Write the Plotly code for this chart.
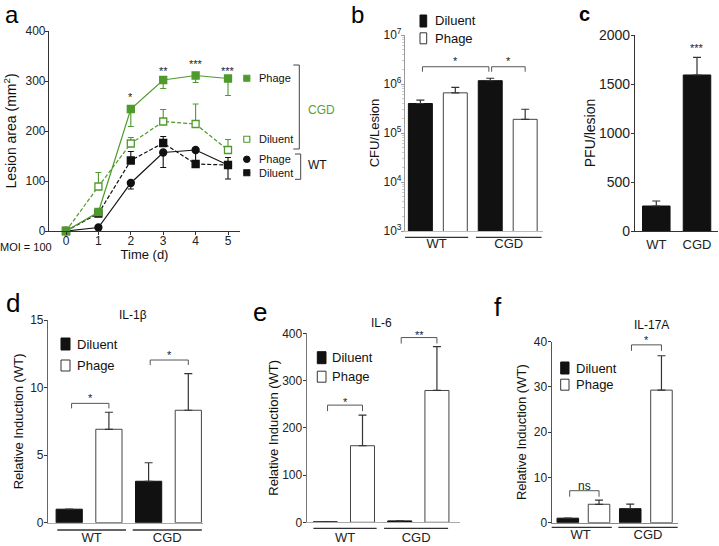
import math
import plotly.graph_objects as go

W, H = 719, 546
FONT = "'Liberation Sans', Arial, Helvetica, sans-serif"

# ---------------- data ----------------
days = [0, 1, 2, 3, 4, 5]
day_sig = ["", "", "*", "**", "***", "***"]
day_sig_y = [0, 0, 269, 321, 335, 321]

cgd_phage = [0, 38, 244, 302, 311, 305]
cgd_phage_err = [0, 0, 35, 17, 14, 34]        # drawn downward
cgd_diluent = [0, 89, 175, 219, 214, 162]
cgd_diluent_err = [0, 28, 12, 24, 40, 21]     # drawn upward
wt_phage = [0, 7, 96, 157, 162, 132]
wt_phage_err = [0, 0, 12, 30, 0, 28]          # drawn downward
wt_diluent = [0, 35, 141, 176, 134, 132]
wt_diluent_err = [0, 0, 18, 13, 28, 15]       # drawn upward

groups = ["WT", "CGD"]
treatments = ["Diluent", "Phage"]

cfu_diluent = [4.0e5, 1.17e6]
cfu_diluent_err = [0.7e5, 0.14e6]
cfu_phage = [6.6e5, 1.9e5]
cfu_phage_err = [1.95e5, 1.15e5]
cfu_sig = [("*", 0, 2, 2.25e6), ("*", 2, 3, 2.25e6)]

pfu = [255, 1592]
pfu_err = [51, 180]
pfu_sig = ("***", 1, 1864)

il1b_diluent = [1.0, 3.07]
il1b_diluent_err = [0, 1.37]
il1b_phage = [6.92, 8.33]
il1b_phage_err = [1.26, 2.71]
il1b_sig = [("*", 0, 1, 8.84), ("*", 2, 3, 12.05)]

il6_diluent = [1.0, 3.0]
il6_diluent_err = [0, 0]
il6_phage = [162, 279]
il6_phage_err = [65, 93]
il6_sig = [("*", 0, 1, 248), ("**", 2, 3, 391)]

il17_diluent = [1.0, 3.1]
il17_diluent_err = [0, 1.0]
il17_phage = [4.07, 29.3]
il17_phage_err = [0.9, 7.6]
il17_sig = [("ns", 0, 1, 7.07), ("*", 2, 3, 39.3)]

GREEN = "#4f9a2c"
GREEN_TXT = "#5a9e34"
BLACK = "#111111"


def PX(x):
    return x / W


def PY(y):
    return 1 - y / H


# panel geometry (pixels) and axis ranges
geo = {
    1: dict(x=(49, 240), y=(31, 231), xr=[-0.525, 5.37], yr=[0, 400], log=False),
    2: dict(x=(405, 543), y=(35, 231), xr=[-0.44, 3.51], yr=[3, 7], log=True),
    3: dict(x=(635, 718), y=(35, 231), xr=[-0.523, 1.516], yr=[0, 2000], log=False),
    4: dict(x=(48, 203), y=(320.2, 522.7), xr=[-0.534, 3.37], yr=[0, 15], log=False),
    5: dict(x=(306.7, 460), y=(333.3, 522.3), xr=[-0.5, 3.62], yr=[0, 400], log=False),
    6: dict(x=(551.7, 678), y=(341.7, 522.7), xr=[-0.516, 3.53], yr=[0, 40], log=False),
}

fig = go.Figure()


# ---------------- panel a ----------------
def line_trace(y, err, down, color, dash, symbol, size, name, fill):
    zeros = [0] * len(err)
    return go.Scatter(
        x=days, y=y, mode="lines+markers", name=name,
        line=dict(color=color, width=1.2, dash=dash),
        marker=dict(symbol=symbol, size=size, color=fill,
                    line=dict(color=color, width=1.3)),
        error_y=dict(type="data", symmetric=False,
                     array=zeros if down else err,
                     arrayminus=err if down else zeros,
                     color=color, thickness=1.1, width=3),
        cliponaxis=False, showlegend=False, xaxis="x", yaxis="y")


fig.add_trace(line_trace(wt_diluent, wt_diluent_err, False, BLACK, "4px,2px", "square", 7, "WT Diluent", BLACK))
fig.add_trace(line_trace(wt_phage, wt_phage_err, True, BLACK, "solid", "circle", 7, "WT Phage", BLACK))
fig.add_trace(line_trace(cgd_diluent, cgd_diluent_err, False, GREEN, "4px,2px", "square", 7, "CGD Diluent", "white"))
fig.add_trace(line_trace(cgd_phage, cgd_phage_err, True, GREEN, "solid", "square", 7, "CGD Phage", GREEN))


# ---------------- bar panels ----------------
def bar_pair(k, dil, dil_err, ph, ph_err, width):
    sx = str(k)
    xd = [2 * g for g in range(len(groups))]
    xp = [2 * g + 1 for g in range(len(groups))]
    eb = dict(type="data", symmetric=False, color="#333", thickness=1.2, width=4)
    fig.add_trace(go.Bar(x=xd, y=dil, width=width, name=treatments[0],
                         marker=dict(color=BLACK, line=dict(color=BLACK, width=1)),
                         error_y=dict(eb, array=dil_err, arrayminus=[0] * len(dil)),
                         showlegend=False, xaxis="x" + sx, yaxis="y" + sx))
    fig.add_trace(go.Bar(x=xp, y=ph, width=width, name=treatments[1],
                         marker=dict(color="white", line=dict(color="#444", width=1)),
                         error_y=dict(eb, array=ph_err, arrayminus=[0] * len(ph)),
                         showlegend=False, xaxis="x" + sx, yaxis="y" + sx))


bar_pair(2, cfu_diluent, cfu_diluent_err, cfu_phage, cfu_phage_err, 0.686)
bar_pair(4, il1b_diluent, il1b_diluent_err, il1b_phage, il1b_phage_err, 0.66)
bar_pair(5, il6_diluent, il6_diluent_err, il6_phage, il6_phage_err, 0.645)
bar_pair(6, il17_diluent, il17_diluent_err, il17_phage, il17_phage_err, 0.69)

fig.add_trace(go.Bar(x=[0, 1], y=pfu, width=0.676, name="PFU",
                     marker=dict(color=BLACK, line=dict(color=BLACK, width=1)),
                     error_y=dict(type="data", symmetric=False, array=pfu_err,
                                  arrayminus=[0, 0], color="#333", thickness=1.2, width=4),
                     showlegend=False, xaxis="x3", yaxis="y3"))

# ---------------- axes ----------------
axis_common = dict(showgrid=False, zeroline=False, showline=True, linewidth=1.2,
                   linecolor="#333", ticks="outside", ticklen=3, tickwidth=1,
                   tickcolor="#333", tickfont=dict(family=FONT, size=12, color="#222"),
                   title_font=dict(family=FONT, size=13, color="#111"), automargin=False)

lay = {}
for k, g in geo.items():
    sx = "" if k == 1 else str(k)
    lay["xaxis" + sx] = dict(axis_common, domain=[PX(g["x"][0]), PX(g["x"][1])],
                             range=g["xr"], anchor="y" + sx)
    lay["yaxis" + sx] = dict(axis_common, domain=[PY(g["y"][1]), PY(g["y"][0])],
                             range=g["yr"], anchor="x" + sx, ticklabelstandoff=-2)

# panel a
lay["xaxis"].update(tickvals=days, ticklabelstandoff=-5,
                    title=dict(text="Time (d)", standoff=0, font=dict(family=FONT, size=13)))
lay["yaxis"].update(tickvals=[0, 100, 200, 300, 400], ticklabelstandoff=-3,
                    title=dict(text="Lesion area (mm<sup>2</sup>)", standoff=5,
                               font=dict(family=FONT, size=14)))

# group line extents for grouped bar panels (category units), pixel y, label standoff
glines = {
    2: ([(-0.44, 1.37), (1.59, 3.47)], 237.3, 0),
    4: ([(-0.3, 1.43), (1.6, 3.34)], 530.0, 3),
    5: ([(-0.32, 1.38), (1.58, 3.3)], 528.3, 3),
    6: ([(-0.59, 1.41), (1.62, 3.52)], 527.3, 0),
}
for k, (ext, yl, so) in glines.items():
    sx = str(k)
    lay["xaxis" + sx].update(tickvals=[(a + b) / 2 for a, b in ext], ticktext=groups,
                             ticks="", tickfont=dict(family=FONT, size=13, color="#222"),
                             ticklabelstandoff=so)

# panel b (log)
decades = [1e3, 1e4, 1e5, 1e6, 1e7]
lay["yaxis2"].update(type="log", tickvals=decades,
                     ticktext=["10<sup>3</sup>", "10<sup>4</sup>", "10<sup>5</sup>",
                               "10<sup>6</sup>", "10<sup>7</sup>"],
                     linecolor="#999", tickcolor="#999", ticklabelstandoff=-3,
                     minor=dict(tickvals=[m * d for d in decades[:-1] for m in range(2, 10)],
                                ticks="outside", ticklen=2, tickcolor="#ccc"),
                     title=dict(text="CFU/Lesion", standoff=0))
lay["xaxis2"].update(linecolor="#bbb")

# panel c
lay["xaxis3"].update(tickvals=[0, 1], ticktext=groups, ticks="", ticklabelstandoff=1,
                     tickfont=dict(family=FONT, size=13, color="#222"))
lay["yaxis3"].update(tickvals=[0, 500, 1000, 1500, 2000],
                     tickfont=dict(family=FONT, size=14, color="#222"),
                     title=dict(text="PFU/lesion", standoff=0, font=dict(family=FONT, size=14)))

# panels d-f
lay["yaxis4"].update(tickvals=[0, 5, 10, 15], linecolor="#666",
                     title=dict(text="Relative Induction (WT)", standoff=3))
lay["xaxis4"].update(linecolor="#aaa")
lay["yaxis5"].update(tickvals=[0, 100, 200, 300, 400], linecolor="#777",
                     title=dict(text="Relative Induction (WT)", standoff=0))
lay["xaxis5"].update(linecolor="#aaa")
lay["yaxis6"].update(tickvals=[0, 10, 20, 30, 40], linecolor="#555",
                     title=dict(text="Relative Induction (WT)", standoff=4))
lay["xaxis6"].update(linecolor="#888")

# ---------------- shapes & annotations ----------------
shapes = []
ann = []


def text(x, y, s, size=12, color="#111", xanchor="center", yanchor="middle", **kw):
    ann.append(dict(x=PX(x), y=PY(y), xref="paper", yref="paper", text=s, showarrow=False,
                    font=dict(family=FONT, size=size, color=color),
                    xanchor=xanchor, yanchor=yanchor, **kw))


def pline(x0, y0, x1, y1, color="#444", width=1):
    shapes.append(dict(type="line", xref="paper", yref="paper", x0=PX(x0), y0=PY(y0),
                       x1=PX(x1), y1=PY(y1), line=dict(color=color, width=width)))


def to_dom(k, v):
    """data value -> fraction of y-axis domain"""
    lo, hi = geo[k]["yr"]
    if geo[k]["log"]:
        v = math.log10(v)
    return (v - lo) / (hi - lo)


# group underlines
for k, (ext, yl, so) in glines.items():
    for a, b in ext:
        shapes.append(dict(type="line", xref="x" + str(k), yref="paper", x0=a, x1=b,
                           y0=PY(yl), y1=PY(yl), line=dict(color="#333", width=1.3)))


# significance brackets
def brackets(k, sig, tick_px=5, lab_px=7):
    sx = str(k)
    hpx = geo[k]["y"][1] - geo[k]["y"][0]
    for lab, i0, i1, yv in sig:
        x0 = i0 + (0.06 if i0 == 0 else 0.04)
        x1 = i1 - (0.04 if i1 == 2 else 0.0)
        yb = to_dom(k, yv)
        yt = yb - tick_px / hpx
        yl = yb + lab_px / hpx
        col = "#555"
        ref = dict(xref="x" + sx, yref="y%s domain" % sx)
        shapes.append(dict(type="line", x0=x0, x1=x1, y0=yb, y1=yb,
                           line=dict(color=col, width=1), **ref))
        for xx in (x0, x1):
            shapes.append(dict(type="line", x0=xx, x1=xx, y0=yb, y1=yt,
                               line=dict(color=col, width=1), **ref))
        ann.append(dict(x=(x0 + x1) / 2, y=yl, text=lab, showarrow=False,
                        font=dict(family=FONT, size=12 if lab == "ns" else 11, color="#222"),
                        xanchor="center", yanchor="middle", **ref))


brackets(2, cfu_sig, tick_px=5, lab_px=6)
brackets(4, il1b_sig, tick_px=5, lab_px=5)
brackets(5, il6_sig, tick_px=6, lab_px=3)
brackets(6, il17_sig, tick_px=6, lab_px=5)

# panel c stars
ann.append(dict(x=pfu_sig[1], y=to_dom(3, pfu_sig[2]), xref="x3", yref="y3 domain",
                text=pfu_sig[0], showarrow=False, font=dict(family=FONT, size=11, color="#222"),
                xanchor="center", yanchor="middle"))

# panel a stars
for d, s, v in zip(days, day_sig, day_sig_y):
    if s:
        ann.append(dict(x=d, y=to_dom(1, v), xref="x", yref="y domain", text=s, showarrow=False,
                        font=dict(family=FONT, size=11, color="#222"),
                        xanchor="center", yanchor="middle"))


# panel a legend (markers + labels + brackets)
def sq(cx, cy, s, fill, color):
    shapes.append(dict(type="rect", xref="paper", yref="paper",
                       x0=PX(cx - s / 2), x1=PX(cx + s / 2), y0=PY(cy + s / 2), y1=PY(cy - s / 2),
                       fillcolor=fill, line=dict(color=color, width=1.1)))


def circ(cx, cy, s, color):
    shapes.append(dict(type="circle", xref="paper", yref="paper",
                       x0=PX(cx - s / 2), x1=PX(cx + s / 2), y0=PY(cy + s / 2), y1=PY(cy - s / 2),
                       fillcolor=color, line=dict(color=color, width=1)))


leg_a = [("Phage", 78.3, "sq", GREEN, GREEN), ("Diluent", 139.3, "sq", "white", GREEN),
         ("Phage", 159.3, "circ", BLACK, BLACK), ("Diluent", 172.7, "sq", BLACK, BLACK)]
for name, yy, kind, fill, col in leg_a:
    pline(243.3, yy, 250.3, yy, color=col, width=1)
    if kind == "sq":
        sq(246.8, yy, 6, fill, col)
    else:
        circ(246.8, yy, 6.5, col)
    text(256.5, yy, name, size=11, color="#111", xanchor="left")

pline(299.3, 65, 299.3, 149)
pline(293.3, 65, 299.3, 65)
pline(293.3, 149, 299.3, 149)
pline(300.7, 154, 300.7, 179.3)
pline(295, 154, 300.7, 154)
pline(295, 179.3, 300.7, 179.3)
text(306, 110, "CGD", size=12, color=GREEN_TXT, xanchor="left")
text(306, 165, "WT", size=12, color="#111", xanchor="left")
text(26, 247, "MOI = 100", size=11, color="#111")

# bar legends
bar_legs = [
    (420, 426.7, 21, 38.3, 433.3, 13),
    (61, 70, 344, 365.5, 75, 13),
    (317.3, 326, 357.7, 376.7, 330, 13),
    (560.7, 569, 368, 384.7, 574, 13),
]
for x0, x1, y1, y2, tx, fs in bar_legs:
    shapes.append(dict(type="rect", xref="paper", yref="paper", x0=PX(x0), x1=PX(x1),
                       y0=PY(y1 + 6), y1=PY(y1 - 6), fillcolor=BLACK, line=dict(color=BLACK, width=1)))
    shapes.append(dict(type="rect", xref="paper", yref="paper", x0=PX(x0), x1=PX(x1),
                       y0=PY(y2 + 5.5), y1=PY(y2 - 5.5), fillcolor="white", line=dict(color="#333", width=1)))
    text(tx, y1, treatments[0], size=fs, xanchor="left")
    text(tx, y2, treatments[1], size=fs, xanchor="left")

# panel titles
text(133.3, 315, "IL-1β", size=12)
text(381.7, 323.3, "IL-6", size=12)
text(651.7, 325, "IL-17A", size=12)

# panel letters (top row anchored to the top edge so they stay inside the page)
text(11.5, 0, "a", size=24, color="#000", yanchor="top", borderpad=0)
text(357.5, 0, "b", size=24, color="#000", yanchor="top", borderpad=0)
text(584, 14, "<b>c</b>", size=20, color="#000")
for s, x, y in [("d", 12.5, 303), ("e", 260, 312), ("f", 498, 307)]:
    text(x, y, s, size=26, color="#000")

fig.update_layout(
    width=W, height=H, margin=dict(l=0, r=0, t=0, b=0, autoexpand=False),
    paper_bgcolor="white", plot_bgcolor="white",
    barmode="overlay", showlegend=False,
    font=dict(family=FONT, color="#111"),
    shapes=shapes, annotations=ann, **lay)

fig.write_html("out.html", config={"displayModeBar": False},
               post_script="document.body.style.margin='0px';document.body.style.overflow='hidden';")
